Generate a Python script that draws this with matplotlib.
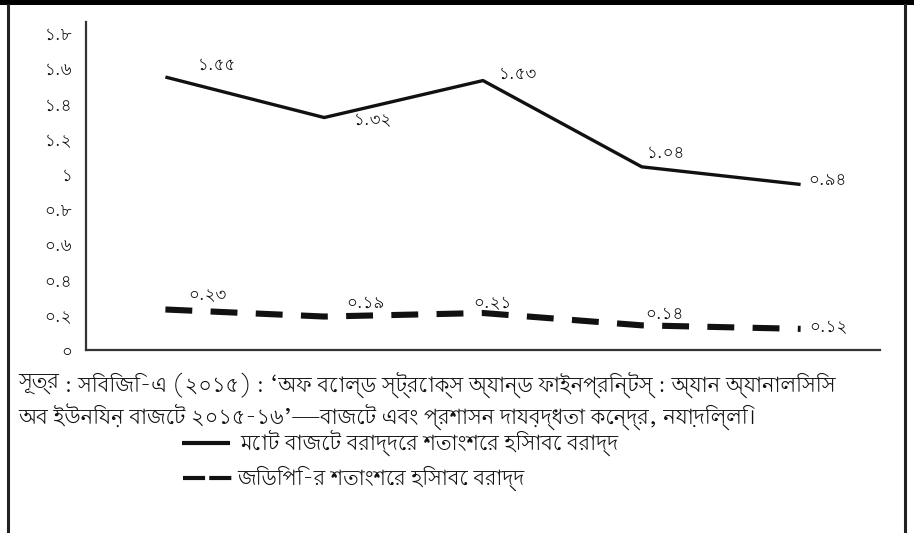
import numpy as np
import matplotlib
matplotlib.use('Agg')
import matplotlib.pyplot as plt
from matplotlib import font_manager as fm
from matplotlib.ft2font import FT2Font
from matplotlib.lines import Line2D
from matplotlib.patches import Rectangle

# data
share_budget = [1.55, 1.32, 1.53, 1.04, 0.94]
share_gdp = [0.23, 0.19, 0.21, 0.14, 0.12]
ytick_vals = [0, 0.2, 0.4, 0.6, 0.8, 1.0, 1.2, 1.4, 1.6, 1.8]
ytick_text = ['০', '০.২', '০.৪', '০.৬', '০.৮', '১', '১.২', '১.৪', '১.৬', '১.৮']
budget_text = ['১.৫৫', '১.৩২', '১.৫৩', '১.০৪', '০.৯৪']
gdp_text = ['০.২৩', '০.১৯', '০.২১', '০.১৪', '০.১২']
legend_text = ['মোট বাজেট বরাদ্দের শতাংশের হিসাবে বরাদ্দ',
               'জিডিপি-র শতাংশের হিসাবে বরাদ্দ']
source_bold = 'সূত্র'
source_line1 = ' : সিবিজি-এ (২০১৫) : ‘অফ বোল্ড স্ট্রোক্স অ্যান্ড ফাইনপ্রিন্টস্ : অ্যান অ্যানালিসিস'
source_line2 = 'অব ইউনিয়ন বাজেট ২০১৫-১৬’—বাজেট এবং প্রশাসন দায়বদ্ধতা কেন্দ্র, নয়াদিল্লি।'


#look for an installed font with bengali glyphs, avoid mono ones
def find_bengali():
    found = []
    for f in fm.fontManager.ttflist:
        try:
            if 0x0995 in FT2Font(f.fname).get_charmap():
                found.append(f.name)
        except Exception:
            pass
    if not found:
        return None
    def score(n):
        s = 0
        if 'Bengali' in n or 'Bangla' in n:
            s -= 10
        if 'Mono' in n:
            s += 20
        if 'Serif' in n:
            s += 2
        return s
    return sorted(set(found), key=score)[0]

bn = find_bengali()
if bn:
    plt.rcParams['font.family'] = [bn, 'DejaVu Sans']
else:
    plt.rcParams['font.family'] = ['DejaVu Sans']

W, H = 914, 533
fig = plt.figure(figsize=(W / 100, H / 100), dpi=100)

def fx(px):
    return px / W

def fy(py):
    return 1 - py / H

# shrink/grow a text so it spans the width seen in the reference
def fit_width(t, width_px, max_size=15):
    fig.canvas.draw()
    w = t.get_window_extent().width
    if w > 0:
        t.set_fontsize(min(max_size, t.get_fontsize() * width_px / w))

# frame: black band on top, thin borders on sides
fig.add_artist(Rectangle((0, fy(5)), 1, 5 / H, transform=fig.transFigure,
                         color='black', lw=0))
fig.add_artist(Line2D([fx(8), fx(8)], [0, fy(5)], color='#222222', lw=2.2))
fig.add_artist(Line2D([fx(905), fx(905)], [0, fy(5)], color='#222222', lw=2.2))

ax = fig.add_axes([fx(86), fy(350), fx(880) - fx(86), fy(22) - fy(350)])
x = np.arange(len(share_budget))

ax.plot(x, share_budget, color='#111111', lw=2.4, solid_capstyle='butt')
ax.plot(x, share_gdp, color='#111111', lw=4.4, dashes=(4.4, 3.0),
        dash_capstyle='butt')

budget_off = [(37, 9), (35, -2), (25, 5), (17, 10), (19, 3)]
gdp_off = [(30, 10), (30, 10), (7, 7), (16, 8), (20, 1)]
for i in range(len(x)):
    ax.annotate(budget_text[i], (x[i], share_budget[i]), xytext=budget_off[i],
                textcoords='offset points', ha='center', va='center',
                fontsize=12, color='#111111')
    ax.annotate(gdp_text[i], (x[i], share_gdp[i]), xytext=gdp_off[i],
                textcoords='offset points', ha='center', va='center',
                fontsize=12, color='#111111')

ax.set_xlim(-0.5, 4.5)
ax.set_ylim(0, 1.8625)
ax.set_xticks([])
ax.set_yticks(ytick_vals)
ax.set_yticklabels(ytick_text, fontsize=12, color='#111111')
ax.tick_params(axis='y', length=0, pad=10)
for s in ['top', 'right']:
    ax.spines[s].set_visible(False)
for s in ['left', 'bottom']:
    ax.spines[s].set_color('#333333')
    ax.spines[s].set_linewidth(1.6)

# source note
src = fig.text(fx(18), fy(385), source_bold + source_line1, fontsize=14,
               va='center', ha='left', color='#111111')
fit_width(src, 867)
src.set_text('')
t = fig.text(fx(18), fy(385), source_bold, fontsize=src.get_fontsize(),
             fontweight='bold', va='center', ha='left', color='#111111')
fig.canvas.draw()
bb = t.get_window_extent()
fig.text(bb.x1 / W, fy(385), source_line1, fontsize=src.get_fontsize(),
         va='center', ha='left', color='#111111')
src2 = fig.text(fx(18), fy(417), source_line2, fontsize=14, va='center',
                ha='left', color='#111111')
fit_width(src2, 834)

# legend drawn by hand
fig.add_artist(Line2D([fx(182), fx(230)], [fy(443), fy(443)], color='#111111',
                      lw=3, solid_capstyle='butt'))
fig.add_artist(Line2D([fx(183), fx(232)], [fy(478), fy(478)], color='#111111',
                      lw=3, dashes=(5.3, 1.0), dash_capstyle='butt'))
lg1 = fig.text(fx(240), fy(443), legend_text[0], fontsize=14, va='center',
               ha='left', color='#111111')
lg2 = fig.text(fx(237), fy(478), legend_text[1], fontsize=14, va='center',
               ha='left', color='#111111')
fit_width(lg1, 380)
fit_width(lg2, 288)

fig.savefig('out.png', dpi=100)
